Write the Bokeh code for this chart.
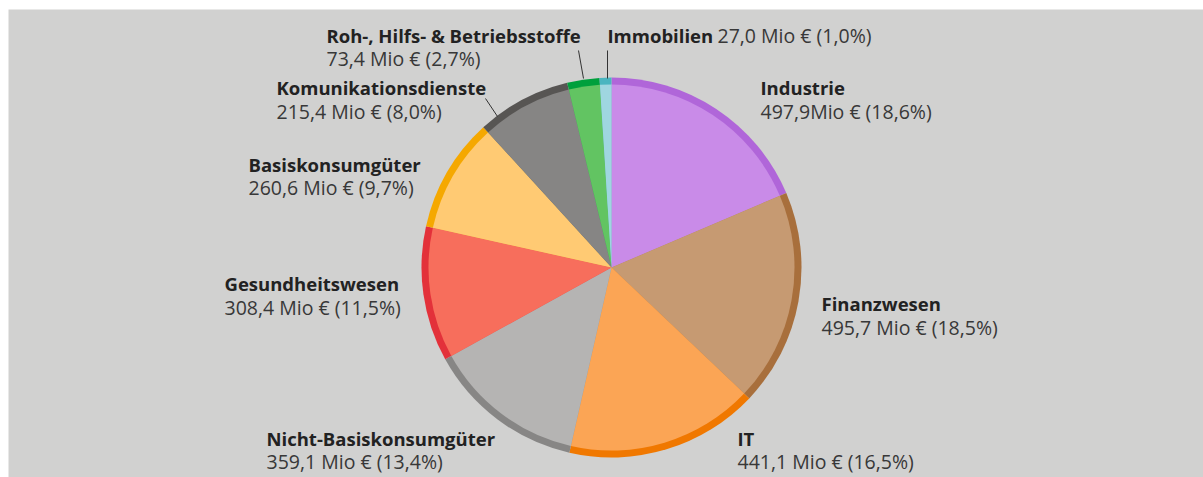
import numpy as np
from bokeh.plotting import figure
from bokeh.models import Range1d, ColumnDataSource
from bokeh.core.properties import value
from bokeh.embed import file_html
from bokeh.resources import INLINE

# ---- data ----
categories = ["Industrie", "Finanzwesen", "IT", "Nicht-Basiskonsumgüter",
              "Gesundheitswesen", "Basiskonsumgüter", "Komunikationsdienste",
              "Roh-, Hilfs- & Betriebsstoffe", "Immobilien"]
values_mio = [497.9, 495.7, 441.1, 359.1, 308.4, 260.6, 215.4, 73.4, 27.0]
value_labels = ["497,9Mio € (18,6%)", "495,7 Mio € (18,5%)", "441,1 Mio € (16,5%)",
                "359,1 Mio € (13,4%)", "308,4 Mio € (11,5%)", "260,6 Mio € (9,7%)",
                "215,4 Mio € (8,0%)", "73,4 Mio € (2,7%)", "27,0 Mio € (1,0%)"]
fill_colors = ["#c98be8", "#c69a72", "#fba555", "#b5b4b3", "#f76e5c",
               "#ffca73", "#868584", "#62c462", "#9fd6e0"]
rim_colors = ["#b066d9", "#a86f3c", "#f07800", "#878685", "#e3313a",
              "#f5a800", "#575553", "#00a03c", "#4ab5c0"]

# ---- layout (screen px -> data units) ----
PAGE_W, PAGE_H = 1203, 477
LEFT, TOP = 8, 9
W, H = PAGE_W - LEFT, PAGE_H - TOP
def sx(x): return x - LEFT
def sy(y): return PAGE_H - y

cx, cy = sx(611), sy(267)
R_OUT, R_IN = 190, 183

vals = np.array(values_mio)
frac = vals / vals.sum()
cum = np.concatenate([[0], np.cumsum(frac)])
start = np.pi / 2 - cum[:-1] * 2 * np.pi
end = np.pi / 2 - cum[1:] * 2 * np.pi

src = ColumnDataSource(dict(start=start, end=end, fill=fill_colors, rim=rim_colors))

p = figure(width=PAGE_W, height=PAGE_H, output_backend="svg", toolbar_location=None,
           x_range=Range1d(0, W), y_range=Range1d(0, H),
           min_border_left=LEFT, min_border_top=TOP, min_border_right=0, min_border_bottom=0,
           background_fill_color="#d1d1d0", border_fill_color="#ffffff")
p.axis.visible = False
p.grid.visible = False
p.outline_line_color = None

p.wedge(x=cx, y=cy, radius=R_OUT, start_angle="start", end_angle="end",
        direction="clock", fill_color="rim", line_color=None, source=src)
p.wedge(x=cx, y=cy, radius=R_IN, start_angle="start", end_angle="end",
        direction="clock", fill_color="fill", line_color=None, source=src)

# leader lines (screen coords of label side -> rim)
leaders = [((485, 98), (497, 116)), ((578, 50), (583, 78)), ((607, 50), (607, 78))]
p.segment(x0=[sx(a[0]) for a, b in leaders], y0=[sy(a[1]) for a, b in leaders],
          x1=[sx(b[0]) for a, b in leaders], y1=[sy(b[1]) for a, b in leaders],
          line_color="#333333", line_width=1)

# label positions (screen px): name line x, y ; value line y
label_pos = {
    "Industrie": (760, 87, 111),
    "Finanzwesen": (821, 303, 327),
    "IT": (737, 438, 461),
    "Nicht-Basiskonsumgüter": (266, 438, 461),
    "Gesundheitswesen": (224, 283, 307),
    "Basiskonsumgüter": (248, 164, 187),
    "Komunikationsdienste": (276, 87, 111),
    "Roh-, Hilfs- & Betriebsstoffe": (326, 35, 58),
}
FONT = value("Open Sans")
names_x, names_y, names_t = [], [], []
vals_x, vals_y, vals_t = [], [], []
for cat, vl in zip(categories, value_labels):
    if cat in label_pos:
        x, y1, y2 = label_pos[cat]
        names_x.append(sx(x)); names_y.append(sy(y1)); names_t.append(cat)
        vals_x.append(sx(x)); vals_y.append(sy(y2)); vals_t.append(vl)
# Immobilien on one line
names_x.append(sx(607)); names_y.append(sy(35)); names_t.append(categories[-1])
vals_x.append(sx(717)); vals_y.append(sy(35)); vals_t.append(value_labels[-1])

p.text(x=names_x, y=names_y, text=names_t, text_font=FONT, text_font_size="18.5px",
       text_font_style="bold", text_color="#222222", text_baseline="middle",
       text_align="left")
p.text(x=vals_x, y=vals_y, text=vals_t, text_font=FONT, text_font_size="19.5px",
       text_color="#383838", text_baseline="middle", text_align="left")

open("out.html", "w").write(file_html(p, INLINE))
